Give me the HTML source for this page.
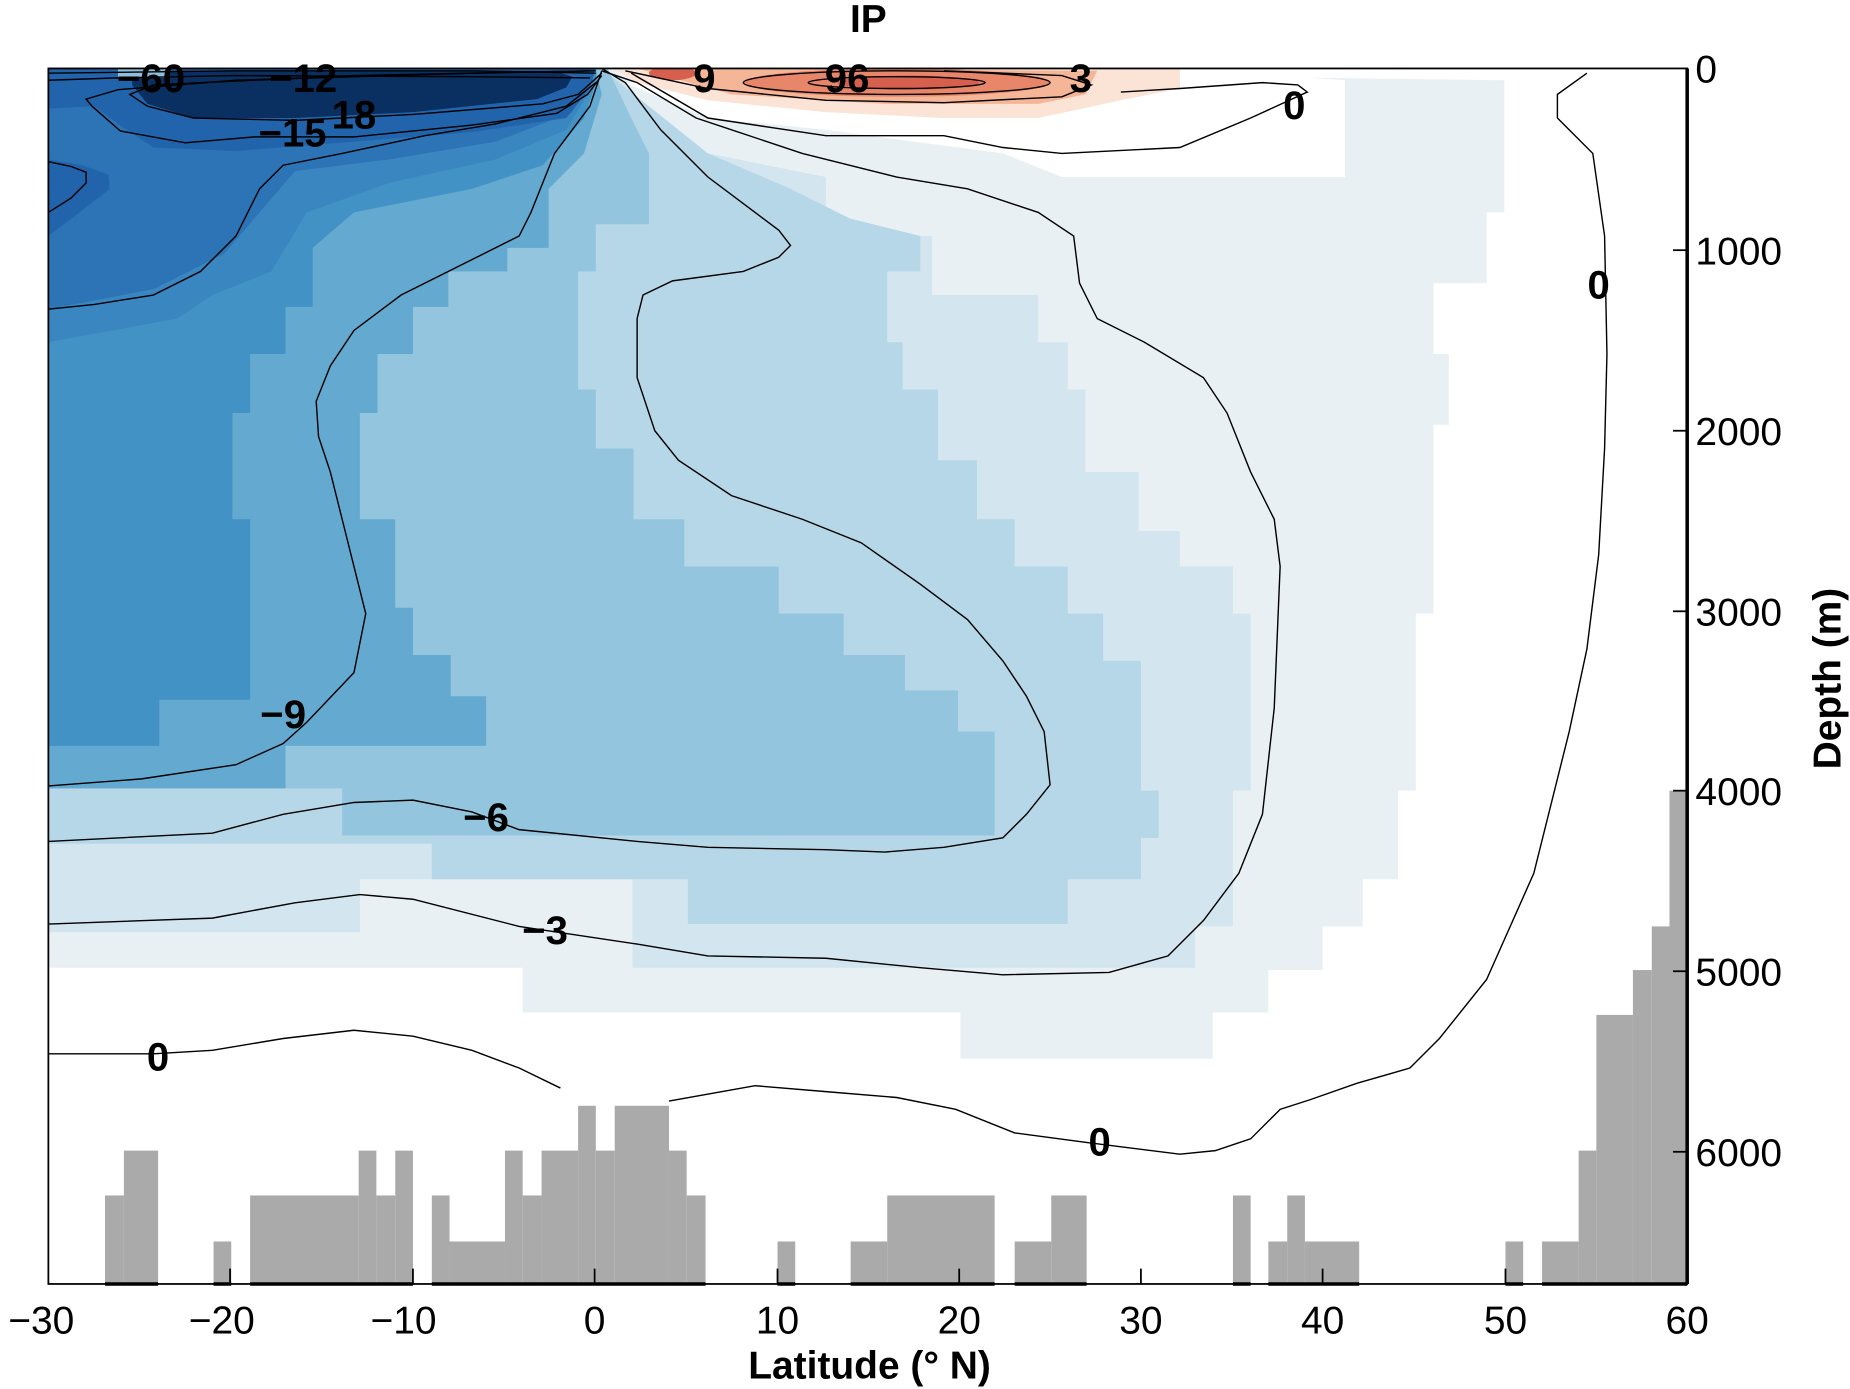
<!DOCTYPE html>
<html><head><meta charset="utf-8"><style>html,body{margin:0;padding:0;background:#fff}svg{display:block}</style></head><body>
<svg width="1850" height="1389" viewBox="0 0 1568 1177" preserveAspectRatio="none" xmlns="http://www.w3.org/2000/svg" font-family="Liberation Sans, sans-serif">
<rect width="1568" height="1177" fill="#fff"/>
<clipPath id="c"><rect x="41" y="58" width="1389" height="1030"/></clipPath>
<g clip-path="url(#c)" stroke="none">
<polygon fill="#e9f0f4" points="41,58 520,58 1275,68 1275,180 1260,180 1260,240 1215,240 1215,300 1228,300 1228,360 1215,360 1215,520 1200,520 1200,670 1185,670 1185,745 1155,745 1155,785 1121,785 1121,822 1075,822 1075,858 1028,858 1028,897 814,897 814,858 443,858 443,820 41,820"/>
<polygon fill="#fff" points="1140,68 1140,150 1170,150 980,150 900,150 850,130 700,110 600,100 530,70 1000,58"/>
<polygon fill="#d3e5ef" points="41,58 510,58 530,70 560,110 600,130 700,150 700,200 790,200 790,250 880,250 880,290 905,290 905,330 920,330 920,400 965,400 965,450 1000,450 1000,480 1045,480 1045,520 1060,520 1060,670 1045,670 1045,785 1013,785 1013,820 536,820 536,745 305,745 305,790 41,790"/>
<polygon fill="#b5d7e7" points="41,58 510,58 550,90 600,130 670,160 720,185 780,200 780,230 752,230 752,290 765,290 765,330 795,330 795,390 828,390 828,440 860,440 860,480 905,480 905,520 935,520 935,560 967,560 967,670 982,670 982,710 967,710 967,745 905,745 905,783 583,783 583,745 366,745 366,715 41,715"/>
<polygon fill="#93c5de" points="41,58 515,58 535,100 550,130 550,190 505,190 505,230 490,230 490,330 505,330 505,380 537,380 537,440 580,440 580,480 660,480 660,520 715,520 715,555 767,555 767,585 812,585 812,620 843,620 843,708 290,708 290,668 41,668"/>
<polygon fill="#64a9d0" points="41,58 505,58 510,80 495,130 465,160 465,210 430,210 430,230 380,230 380,260 350,260 350,300 320,300 320,350 305,350 305,440 335,440 335,515 350,515 350,555 382,555 382,590 412,590 412,632 242,632 242,668 41,668"/>
<polygon fill="#4292c6" points="41,58 505,58 505,70 495,100 460,140 400,160 300,180 265,210 265,260 242,260 242,300 212,300 212,350 197,350 197,440 212,440 212,593 135,593 135,632 41,632"/>
<polygon fill="#3a86c0" points="41,58 502,58 498,80 480,110 420,135 330,155 260,180 230,230 180,250 150,270 41,290"/>
<polygon fill="#2c74b6" points="41,58 500,58 498,70 485,95 420,120 330,135 250,145 220,180 190,215 130,245 41,262"/>
<polygon fill="#2264ab" points="41,58 505,58 500,75 480,100 400,112 300,120 200,128 130,125 100,105 80,90 41,92"/>
<polygon fill="#2264ab" points="41,135 70,140 92,148 93,160 70,178 41,200"/>
<polygon fill="#0a2f61" points="112,72 125,88 164,100 250,100 350,95 455,84 480,74 485,65 470,60 112,60"/>
<rect x="100" y="58" width="40" height="8" fill="#8dbfdc"/>
<polygon fill="#fbe3d6" points="520,58 1000,58 1000,75 950,85 880,100 800,100 700,95 600,85 540,70"/>
<polygon fill="#f5b597" points="540,58 930,60 920,80 880,88 750,88 620,80"/>
<ellipse cx="760" cy="70" rx="130" ry="12" fill="#e8866a"/>
<ellipse cx="770" cy="70" rx="60" ry="6" fill="#d6604d"/>
<ellipse cx="570" cy="62" rx="20" ry="6" fill="#d6604d"/>
<g fill="#aaaaaa">
<rect x="89" y="1013" width="16" height="75"/><rect x="105" y="975" width="29" height="113"/>
<rect x="181" y="1052" width="15" height="36"/><rect x="212" y="1013" width="92" height="75"/>
<rect x="304" y="975" width="15" height="113"/><rect x="319" y="1013" width="16" height="75"/>
<rect x="335" y="975" width="15" height="113"/><rect x="366" y="1013" width="15" height="75"/>
<rect x="381" y="1052" width="47" height="36"/><rect x="428" y="975" width="15" height="113"/>
<rect x="443" y="1013" width="16" height="75"/><rect x="459" y="975" width="31" height="113"/>
<rect x="490" y="937" width="15" height="151"/><rect x="505" y="975" width="16" height="113"/>
<rect x="521" y="937" width="46" height="151"/><rect x="567" y="975" width="15" height="113"/>
<rect x="582" y="1013" width="16" height="75"/><rect x="659" y="1052" width="15" height="36"/>
<rect x="721" y="1052" width="31" height="36"/><rect x="752" y="1013" width="91" height="75"/>
<rect x="860" y="1052" width="31" height="36"/><rect x="891" y="1013" width="30" height="75"/>
<rect x="1045" y="1013" width="15" height="75"/><rect x="1075" y="1052" width="16" height="36"/>
<rect x="1091" y="1013" width="15" height="75"/><rect x="1106" y="1052" width="46" height="36"/>
<rect x="1276" y="1052" width="15" height="36"/><rect x="1307" y="1052" width="31" height="36"/>
<rect x="1338" y="975" width="15" height="113"/><rect x="1353" y="860" width="31" height="228"/>
<rect x="1384" y="822" width="16" height="266"/><rect x="1400" y="785" width="15" height="303"/>
<rect x="1415" y="670" width="15" height="418"/>
</g>
<g fill="none" stroke="#000" stroke-width="1.2">
<polyline points="41,893 130,893 180,890 240,880 300,873 350,878 400,890 440,905 475,922"/>
<polyline points="567,933 640,920 700,925 760,930 810,940 860,960 920,968 1000,978 1030,975 1060,965 1085,940 1110,932 1150,918 1195,905 1220,880 1260,830 1300,740 1330,620 1345,550 1355,470 1360,380 1362,300 1360,200 1350,130 1320,100 1320,80 1345,62"/>
<polyline points="535,62 600,100 700,115 800,115 850,125 900,130 1000,125 1060,100 1108,78 1100,72 1070,70 1000,75 950,78"/>
<polyline points="41,783 180,778 250,765 305,758 350,762 440,785 540,800 600,810 700,812 780,820 850,826 940,824 990,810 1020,780 1050,740 1070,690 1080,600 1085,480 1080,440 1060,400 1040,350 1020,320 970,290 930,270 915,240 910,200 880,180 820,160 760,150 680,130 590,100 540,70 510,60"/>
<polyline points="41,713 180,706 240,690 300,680 350,678 400,688 440,703 540,713 600,718 700,720 750,722 800,718 850,710 870,690 890,665 885,620 870,590 850,560 820,525 780,495 730,460 680,440 620,420 575,390 555,365 540,320 540,270 545,250 570,238 630,230 660,218 670,208 660,195 640,180 600,150 560,110 530,70 510,58"/>
<polyline points="41,666 120,660 200,648 240,630 260,612 300,570 310,520 300,480 290,440 280,400 270,370 268,340 280,310 300,280 340,250 400,220 440,200 450,180 470,130 500,90 510,60"/>
<polyline points="41,262 80,258 130,250 170,230 200,200 220,160 240,140 290,130 360,115 420,105 480,90 505,70"/>
<polyline points="41,137 60,141 73,146 73,155 60,168 41,180"/>
<polyline points="510,64 498,80 472,96 400,106 300,116 216,116 157,121 102,111 78,90 73,84 100,76 200,68 400,62 505,60"/>
<polyline points="510,62 490,80 460,88 350,97 250,102 164,100 125,90 110,80 130,72 300,64 500,60"/>
<polyline points="41,62 200,60 400,60 505,62"/>
<polyline points="41,68 100,66 200,64 400,65 500,66"/>
<ellipse cx="760" cy="70" rx="130" ry="10"/>
<ellipse cx="760" cy="70" rx="75" ry="5"/>
<polyline points="530,60 600,75 700,85 800,87 900,82 925,72 900,64 800,60"/>
</g>
</g>
<g font-weight="bold" font-size="34" text-anchor="middle" fill="#000">
<text x="128" y="78">−60</text><text x="257" y="78">−12</text>
<text x="248" y="124">−15</text><text x="300" y="109">18</text>
<text x="240" y="617">−9</text><text x="412" y="704">−6</text>
<text x="462" y="800">−3</text><text x="134" y="907">0</text>
<text x="932" y="979">0</text><text x="1097" y="101">0</text>
<text x="1355" y="253">0</text><text x="597" y="78">9</text>
<text x="718" y="78">96</text><text x="916" y="78">3</text>
</g>
<g stroke="#000" fill="none">
<rect x="41" y="58" width="1389" height="1030" stroke-width="1.5"/>
<line x1="1430" y1="58" x2="1430" y2="1088" stroke-width="3"/>
<g stroke-width="3">
<line x1="89" y1="1088" x2="134" y2="1088"/><line x1="181" y1="1088" x2="196" y2="1088"/>
<line x1="212" y1="1088" x2="350" y2="1088"/><line x1="366" y1="1088" x2="598" y2="1088"/>
<line x1="659" y1="1088" x2="674" y2="1088"/><line x1="721" y1="1088" x2="843" y2="1088"/>
<line x1="860" y1="1088" x2="921" y2="1088"/><line x1="1045" y1="1088" x2="1060" y2="1088"/>
<line x1="1075" y1="1088" x2="1152" y2="1088"/><line x1="1276" y1="1088" x2="1291" y2="1088"/>
<line x1="1307" y1="1088" x2="1430" y2="1088"/>
</g>
<g stroke-width="1.5">
<line x1="195" y1="1088" x2="195" y2="1075"/><line x1="350" y1="1088" x2="350" y2="1075"/>
<line x1="504" y1="1088" x2="504" y2="1075"/><line x1="659" y1="1088" x2="659" y2="1075"/>
<line x1="813" y1="1088" x2="813" y2="1075"/><line x1="967" y1="1088" x2="967" y2="1075"/>
<line x1="1121" y1="1088" x2="1121" y2="1075"/><line x1="1276" y1="1088" x2="1276" y2="1075"/>
<line x1="1418" y1="212" x2="1430" y2="212"/><line x1="1418" y1="365" x2="1430" y2="365"/>
<line x1="1418" y1="518" x2="1430" y2="518"/><line x1="1418" y1="670" x2="1430" y2="670"/>
<line x1="1418" y1="823" x2="1430" y2="823"/><line x1="1418" y1="976" x2="1430" y2="976"/>
</g>
</g>
<g font-size="33" fill="#000">
<g text-anchor="middle">
<text x="35" y="1130">−30</text><text x="188" y="1130">−20</text><text x="342" y="1130">−10</text>
<text x="504" y="1130">0</text><text x="659" y="1130">10</text><text x="813" y="1130">20</text>
<text x="967" y="1130">30</text><text x="1121" y="1130">40</text><text x="1276" y="1130">50</text>
<text x="1430" y="1130">60</text>
</g>
<g text-anchor="start">
<text x="1437" y="70">0</text><text x="1437" y="224">1000</text><text x="1437" y="377">2000</text>
<text x="1437" y="530">3000</text><text x="1437" y="682">4000</text><text x="1437" y="835">5000</text>
<text x="1437" y="988">6000</text>
</g>
</g>
<g font-weight="bold" font-size="33" text-anchor="middle" fill="#000">
<text x="736" y="27">IP</text>
<text x="737" y="1168">Latitude (° N)</text>
<text transform="translate(1560,575) rotate(-90)">Depth (m)</text>
</g>
</svg>
</body></html>
